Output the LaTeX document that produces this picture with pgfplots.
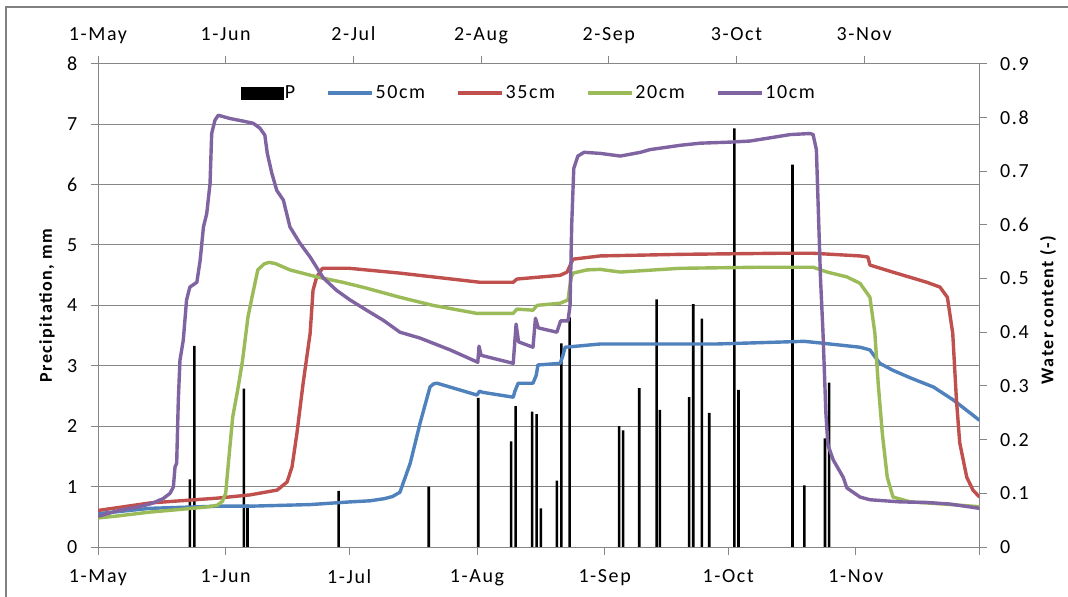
\documentclass[border=0pt]{standalone}
\usepackage{pgfplots}
\pgfplotsset{compat=1.18}
\usepackage{pgfplotstable}
\usepackage{fontspec}
\setmainfont{Carlito}[LetterSpace=8]
\newcommand\lbl{\fontsize{18bp}{21bp}\selectfont}
\newcommand\tlbl{\fontsize{20bp}{23bp}\selectfont}
\definecolor{c50}{HTML}{4F81BD}
\definecolor{c35}{HTML}{C0504D}
\definecolor{c20}{HTML}{9BBB59}
\definecolor{c10}{HTML}{8064A2}
\definecolor{axisgray}{HTML}{868686}

% daily precipitation, mm (x = days after 1 May)
\pgfplotstableread{
day P
22.3 1.12
23.4 3.33
35.4 2.62
36.3 0.70
58.4 0.93
80.3 1.00
92.3 2.47
100.3 1.75
101.4 2.33
105.4 2.24
106.5 2.20
107.5 0.64
111.4 1.10
112.5 3.37
114.5 3.80
126.5 2.00
127.5 1.93
131.4 2.63
135.6 4.10
136.4 2.27
143.5 2.48
144.5 4.02
146.6 3.78
148.4 2.22
154.5 6.93
155.5 2.60
168.6 6.33
171.5 1.02
176.5 1.80
177.5 2.72
}\precip

% water content at 50 cm
\pgfplotstableread{
day wc
0 0.062
12.6 0.072
29 0.076
36.9 0.076
51.5 0.079
61.2 0.084
66 0.086
69.5 0.090
71.5 0.094
73.3 0.102
75.8 0.156
78.2 0.231
80.6 0.298
81.5 0.304
82.3 0.305
92.0 0.283
92.6 0.290
93.4 0.288
100.8 0.279
101.2 0.290
102.0 0.305
105.6 0.305
106.4 0.320
106.8 0.339
112.2 0.342
112.8 0.355
113.4 0.372
121.9 0.378
150.0 0.378
171.4 0.383
175.3 0.380
185.0 0.372
187.4 0.367
189.8 0.342
193.0 0.329
197.2 0.315
202.8 0.298
207.6 0.274
214 0.236
}\wcfifty

% water content at 35 cm
\pgfplotstableread{
day wc
0 0.068
12.6 0.082
29 0.091
36.9 0.097
43.5 0.106
45.9 0.121
47.1 0.149
48.3 0.212
49.8 0.305
51.5 0.398
52.2 0.478
53.1 0.503
54.5 0.519
61 0.519
73.3 0.510
81.3 0.503
92.7 0.493
100.8 0.493
101.7 0.499
112.2 0.506
113.9 0.512
115.3 0.536
121.9 0.542
141.5 0.545
165.5 0.547
173.6 0.547
185.0 0.542
186.9 0.540
187.4 0.525
192.9 0.512
201.2 0.493
204.4 0.484
206.2 0.465
207.5 0.398
208.4 0.274
209.2 0.194
210.9 0.130
212.4 0.106
214 0.093
}\wcthirtyfive

% water content at 20 cm
\pgfplotstableread{
day wc
0 0.054
5 0.058
12.6 0.065
20 0.070
27 0.075
29 0.078
30.2 0.085
31.0 0.100
31.7 0.160
32.7 0.242
33.9 0.292
35.1 0.348
36.4 0.428
37.6 0.473
38.8 0.516
40.3 0.527
41.5 0.530
43.0 0.528
46.6 0.516
53.1 0.503
59.4 0.493
65.2 0.482
73.3 0.465
81.3 0.450
92.0 0.435
100.8 0.435
101.7 0.443
105.6 0.441
106.6 0.450
112.2 0.454
114.1 0.460
114.8 0.500
115.3 0.510
118.7 0.516
121.9 0.517
126.8 0.512
141.3 0.519
160.7 0.521
173.6 0.521
177.0 0.512
181.8 0.503
185.0 0.491
187.4 0.465
188.6 0.398
189.4 0.305
190.4 0.212
191.6 0.130
193.0 0.093
197.2 0.084
205.3 0.080
214 0.075
}\wctwenty

% water content at 10 cm
\pgfplotstableread{
day wc
0 0.057
5 0.068
10 0.075
13 0.081
15.8 0.090
17.5 0.100
18.3 0.112
18.7 0.149
19.1 0.156
19.5 0.274
19.9 0.348
20.7 0.385
21.5 0.460
22.3 0.484
24.0 0.493
24.8 0.534
25.6 0.596
26.4 0.621
27.2 0.677
27.6 0.770
28.4 0.795
29.2 0.804
32.0 0.798
35.3 0.793
37.7 0.789
39.3 0.780
40.5 0.767
41.1 0.733
42.2 0.696
43.4 0.664
45.0 0.646
46.6 0.596
49.0 0.566
51.5 0.540
54.7 0.501
57.9 0.478
61.2 0.460
65.2 0.441
69.3 0.422
73.3 0.400
78.2 0.389
85.5 0.367
92.2 0.344
92.5 0.374
93.0 0.357
100.8 0.342
101.5 0.415
102.1 0.382
105.6 0.372
106.2 0.426
106.9 0.408
111.4 0.400
112.3 0.421
114.1 0.421
114.6 0.450
115.0 0.600
115.5 0.705
116.5 0.728
118.0 0.735
121.9 0.733
126.8 0.728
131.7 0.735
134.0 0.740
141.3 0.748
146.2 0.752
153.5 0.754
158.3 0.756
163.2 0.762
168.0 0.768
172.9 0.770
173.6 0.768
174.4 0.740
174.9 0.620
175.4 0.500
176.0 0.400
176.7 0.250
177.2 0.190
178.5 0.162
180.9 0.130
181.8 0.110
185.0 0.093
187.4 0.088
194.7 0.084
201.0 0.083
206.8 0.080
214 0.072
}\wcten

\begin{document}
\begin{tikzpicture}
\useasboundingbox (0,0) rectangle (1068bp,597bp);
\fill[white] (0,0) rectangle (1068bp,597bp);
% chart area frame
\draw[line width=1.4bp, color=gray] (6bp,-2bp) -- (6bp,590bp) -- (1070bp,590bp);

\pgfplotsset{
  common/.style={
    at={(98bp,50bp)}, anchor=south west, scale only axis,
    width=881.5bp, height=483.3bp,
    xmin=0, xmax=214,
    axis line style={-, axisgray, line width=0.9bp},
    tick style={axisgray, line width=0.9bp},
    tick align=outside, major tick length=7.5bp,
    tick label style={font=\tlbl, text=black, inner sep=0pt},
    /pgf/number format/assume math mode=true,
    label style={font=\lbl\bfseries},
  }
}

% precipitation on the primary axes
\begin{axis}[common,
  ymin=0, ymax=8,
  axis x line*=bottom, axis y line*=left,
  xtick={0,31,61,92,123,153,184,214},
  xticklabels={1-May,1-Jun,1-Jul,1-Aug,1-Sep,1-Oct,1-Nov,{}},
  xticklabel style={yshift=-14.5bp},
  ytick={0,1,2,3,4,5,6,7,8},
  yticklabel style={xshift=-13bp},
  ymajorgrids, grid style={axisgray, line width=0.9bp},
  ylabel={Precipitation, mm},
  ylabel style={at={(axis description cs:-0.0579,0.5)}, anchor=center},
]
\addplot[ybar, bar width=2.6bp, fill=black, draw=none] table[x=day, y=P]{\precip};
\end{axis}

% soil water content on the secondary axes
\begin{axis}[common,
  ymin=0, ymax=0.9,
  axis x line*=top, axis y line*=right,
  xtick={0,31,62,93,124,155,186},
  xticklabels={1-May,1-Jun,2-Jul,2-Aug,2-Sep,3-Oct,3-Nov},
  xticklabel style={text depth=4.5bp, yshift=11bp},
  ytick={0,0.1,0.2,0.3,0.4,0.5,0.6,0.7,0.8,0.9},
  yticklabel style={xshift=13bp, /pgf/number format/fixed, /pgf/number format/precision=1},
  ylabel={Water content (-)},
  ylabel style={at={(axis description cs:1.0777,0.4904)}, anchor=center},
  legend image code/.code={\draw[#1] (0bp,0bp) -- (44bp,0bp);},
  legend style={at={(axis description cs:0.162,0.9394)}, anchor=west,
    draw=none, fill=none, font=\tlbl, inner sep=0pt,
    nodes={inner sep=1.5bp},
    /tikz/every even column/.append style={column sep=30bp}},
  legend columns=5,
]
\addlegendimage{legend image code/.code={\fill[black] (0bp,-6bp) rectangle (42bp,6bp);}}
\addlegendentry{P}
\addplot[c50, line width=3.4bp, line join=round, mark=none] table[x=day, y=wc]{\wcfifty};
\addlegendentry{50cm}
\addplot[c35, line width=3.4bp, line join=round, mark=none] table[x=day, y=wc]{\wcthirtyfive};
\addlegendentry{35cm}
\addplot[c20, line width=3.4bp, line join=round, mark=none] table[x=day, y=wc]{\wctwenty};
\addlegendentry{20cm}
\addplot[c10, line width=3.4bp, line join=round, mark=none] table[x=day, y=wc]{\wcten};
\addlegendentry{10cm}
\end{axis}
\end{tikzpicture}
\end{document}
